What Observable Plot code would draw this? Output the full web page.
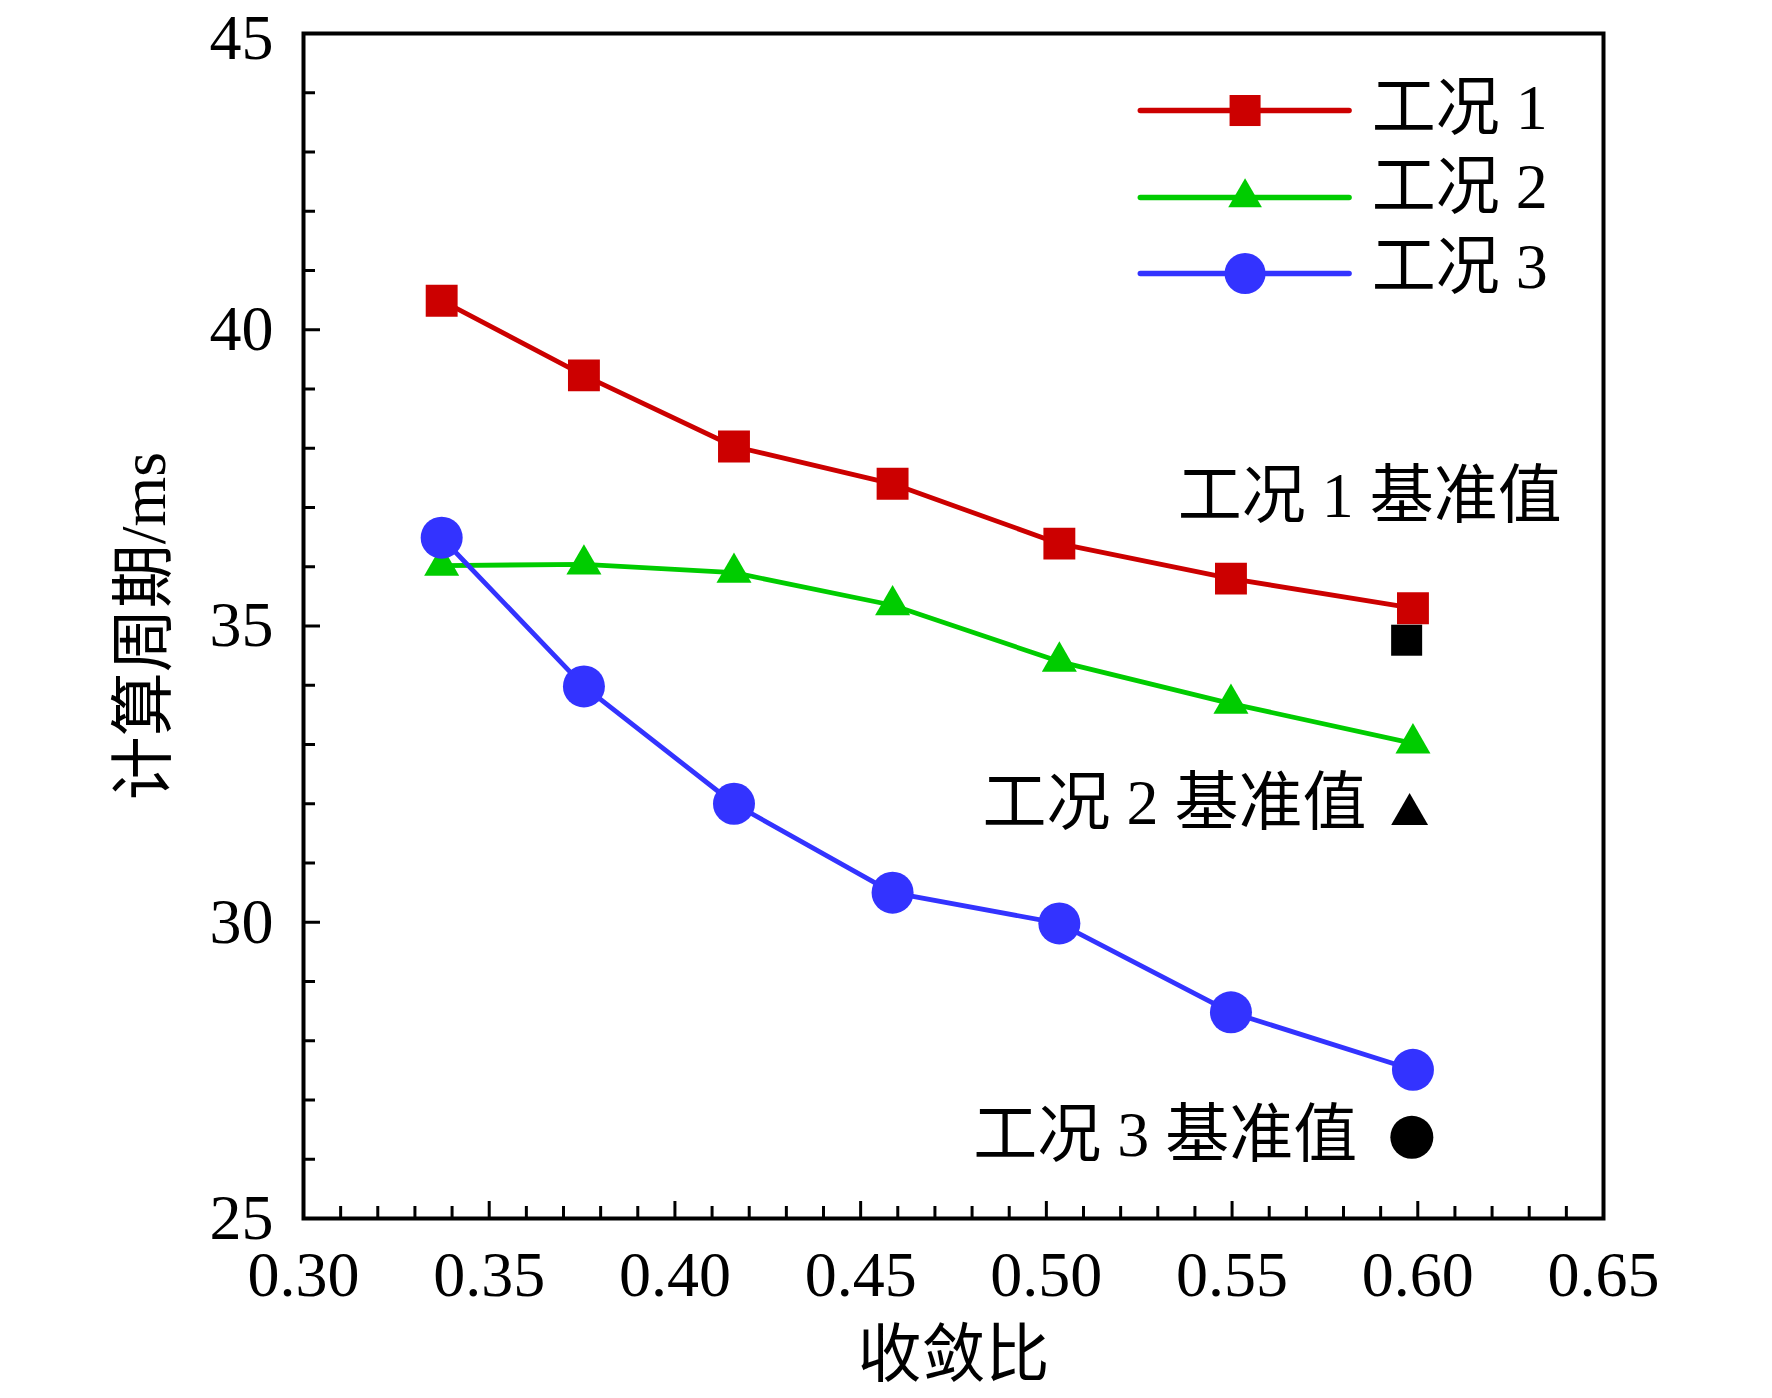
<!DOCTYPE html>
<html>
<head>
<meta charset="utf-8">
<script src="https://cdn.jsdelivr.net/npm/d3@7"></script>
<script src="https://cdn.jsdelivr.net/npm/@observablehq/plot@0.6"></script>
<style>
  html, body { margin: 0; padding: 0; background: #fff; }
  #chart svg { display: block; }
</style>
</head>
<body>
<div id="chart"></div>
<script>
// ---- data ----
const ratio = [0.3372, 0.3755, 0.4159, 0.4586, 0.5035, 0.5497, 0.5987];
const case1 = [40.49, 39.23, 38.03, 37.40, 36.39, 35.80, 35.30];
const case2 = [36.02, 36.04, 35.90, 35.35, 34.40, 33.69, 33.02];
const case3 = [36.49, 33.98, 32.00, 30.50, 29.98, 28.48, 27.51];
const seriesNames = ["工况 1", "工况 2", "工况 3"];
const baseRatio = [0.5970, 0.5978, 0.5984];
const baseValue = [34.76, 31.82, 26.37];
const baseLabels = ["工况 1 基准值", "工况 2 基准值", "工况 3 基准值"];
const xTicks = [0.30, 0.35, 0.40, 0.45, 0.50, 0.55, 0.60, 0.65];
const yTicks = [25, 30, 35, 40, 45];
const xLabel = "收敛比";
const yLabel = "计算周期/ms";

// ---- styles ----
const colors = ["#CC0000", "#00CC00", "#3333FF"];
const symbols = ["square", "triangle", "circle"];
const radii = [18, 13, 21];
const baseRadii = [17.5, 13.7, 21.5];
const FONT = "'Liberation Serif', 'Noto Sans CJK SC', serif";

const W = 1772, H = 1398, mt = 33, mr = 169, mb = 180, ml = 303;
const xDom = [0.30, 0.65], yDom = [25, 45];
const pxPerY = (H - mt - mb) / (yDom[1] - yDom[0]);
const pxPerX = (W - ml - mr) / (xDom[1] - xDom[0]);

const series = [case1, case2, case3].map(vals => ratio.map((r, i) => ({x: r, y: vals[i]})));
const xMinor = d3.range(31, 65).filter(d => d % 5 !== 0).map(d => d / 100);
const yMinor = d3.range(26, 45).filter(d => d % 5 !== 0);

const marks = [];
// ticks (inward)
marks.push(Plot.ruleX(xMinor, {x: d => d, y1: yDom[0], y2: yDom[0] + 12 / pxPerY, stroke: "black", strokeWidth: 3}));
marks.push(Plot.ruleX(xTicks, {x: d => d, y1: yDom[0], y2: yDom[0] + 17 / pxPerY, stroke: "black", strokeWidth: 3}));
marks.push(Plot.ruleY(yMinor, {y: d => d, x1: xDom[0], x2: xDom[0] + 12 / pxPerX, stroke: "black", strokeWidth: 3}));
marks.push(Plot.ruleY(yTicks, {y: d => d, x1: xDom[0], x2: xDom[0] + 17 / pxPerX, stroke: "black", strokeWidth: 3}));

// series
series.forEach((s, k) => {
  marks.push(Plot.line(s, {x: "x", y: "y", stroke: colors[k], strokeWidth: 4.8}));
  marks.push(Plot.dot(s, {x: "x", y: "y", symbol: symbols[k], r: radii[k], fill: colors[k], stroke: "none"}));
});

// baseline (black) markers
baseValue.forEach((v, k) => {
  marks.push(Plot.dot([{x: baseRatio[k], y: v}], {x: "x", y: "y", symbol: symbols[k], r: baseRadii[k], fill: "black", stroke: "none"}));
});

// baseline annotations
const annX = [0.5871, 0.5345, 0.5320];
const annY = [37.19, 32.00, 26.40];
marks.push(Plot.text(baseLabels, {x: (d, i) => annX[i], y: (d, i) => annY[i], text: d => d,
  fontSize: 64, fontFamily: FONT, textAnchor: "middle", lineAnchor: "middle", fill: "black"}));

// legend
const legX1 = 0.5253, legX2 = 0.5815, legXm = 0.5535, legXt = 0.5876;
const legLineY = [43.70, 42.23, 40.95];
const legTextY = [43.73, 42.40, 41.05];
seriesNames.forEach((name, k) => {
  marks.push(Plot.line([{x: legX1, y: legLineY[k]}, {x: legX2, y: legLineY[k]}], {x: "x", y: "y", stroke: colors[k], strokeWidth: 5.5}));
  marks.push(Plot.dot([{x: legXm, y: legLineY[k]}], {x: "x", y: "y", symbol: symbols[k], r: radii[k] - 0.5, fill: colors[k], stroke: "none"}));
  marks.push(Plot.text([name], {x: legXt, y: legTextY[k], text: d => d, fontSize: 64, fontFamily: FONT, textAnchor: "start", lineAnchor: "middle", fill: "black"}));
});

// frame & axes
marks.push(Plot.frame({stroke: "black", strokeWidth: 4}));
marks.push(Plot.axisX({ticks: xTicks, tickFormat: d3.format(".2f"), tickSize: 0, tickPadding: 32, fontSize: 64, fontFamily: FONT, label: null}));
marks.push(Plot.axisY({ticks: yTicks.filter(t => t < yDom[1]), tickFormat: d3.format("d"), tickSize: 0, tickPadding: 30, fontSize: 64, fontFamily: FONT, label: null}));
marks.push(Plot.axisY({ticks: yTicks.filter(t => t === yDom[1]), tickFormat: d3.format("d"), tickSize: 0, tickPadding: 30, dy: 5, fontSize: 64, fontFamily: FONT, label: null}));
marks.push(Plot.text([xLabel], {frameAnchor: "bottom", dy: 137, text: d => d, fontSize: 64, fontFamily: FONT, lineAnchor: "middle", textAnchor: "middle"}));
marks.push(Plot.text([yLabel], {frameAnchor: "left", dx: -159, rotate: -90, text: d => d, fontSize: 64, fontFamily: FONT, lineAnchor: "middle", textAnchor: "middle"}));

const chart = Plot.plot({
  width: W, height: H,
  marginTop: mt, marginRight: mr, marginBottom: mb, marginLeft: ml,
  x: {domain: xDom, axis: null},
  y: {domain: yDom, axis: null},
  style: {fontFamily: FONT, fontSize: "64px", background: "white", color: "black"},
  marks
});
document.getElementById("chart").appendChild(chart);
</script>
</body>
</html>
